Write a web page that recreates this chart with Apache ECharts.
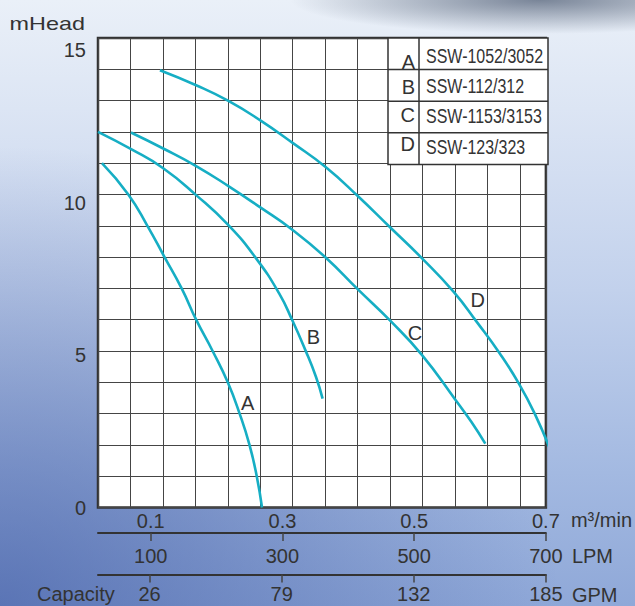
<!DOCTYPE html>
<html><head><meta charset="utf-8">
<script src="https://cdn.jsdelivr.net/npm/echarts@6.0.0/dist/echarts.min.js"></script>
<style>
html,body{margin:0;padding:0;}
body{width:635px;height:606px;overflow:hidden;
background:
 radial-gradient(ellipse 250px 34px at 540px 0px, rgba(60,75,100,0.65), rgba(60,75,100,0) 100%),
 radial-gradient(ellipse 560px 460px at 0px 606px, rgba(55,82,158,0.6), rgba(55,82,158,0) 100%),
 linear-gradient(to bottom, #eaf0f8 0%, #dce5f4 18%, #c2d1ec 48%, #a3b9e1 78%, #8fa8d8 100%);
}
#c{width:635px;height:606px;}
</style></head><body><div id="c"></div>
<script>
// ---- data ----
const flowTicks = [0.1, 0.3, 0.5, 0.7];        // m3/min
const lpmTicks  = [100, 300, 500, 700];        // LPM
const gpmTicks  = [26, 79, 132, 185];          // GPM
const headTicks = [0, 5, 10, 15];              // mHead

const letters = ['A', 'B', 'C', 'D'];
const models  = ['SSW-1052/3052', 'SSW-112/312', 'SSW-1153/3153', 'SSW-123/323'];

const flowA = [0.026, 0.066, 0.095, 0.121, 0.147, 0.169, 0.194, 0.217, 0.235, 0.25, 0.261, 0.269];
const headA = [11, 10, 9, 8, 7, 6, 5, 4, 3, 2, 1, 0];

const flowB = [0.02, 0.071, 0.119, 0.169, 0.218, 0.26, 0.295, 0.315, 0.335, 0.351, 0.361];
const headB = [12, 11.44, 10.84, 9.98, 9.02, 7.96, 6.84, 5.98, 5.02, 4.17, 3.48];

const flowC = [0.07, 0.119, 0.169, 0.218, 0.267, 0.316, 0.366, 0.415, 0.464, 0.512, 0.562, 0.587, 0.608];
const headC = [11.98, 11.47, 10.91, 10.27, 9.58, 8.86, 7.98, 6.96, 5.96, 4.87, 3.46, 2.73, 2.04];

const flowD = [0.114, 0.169, 0.218, 0.267, 0.316, 0.366, 0.414, 0.463, 0.512, 0.56, 0.595, 0.63, 0.659, 0.683, 0.706];
const headD = [13.97, 13.49, 12.99, 12.36, 11.64, 10.87, 9.96, 8.96, 7.96, 6.89, 5.93, 4.92, 3.96, 3.0, 1.88];

// ---- styling / layout ----
const FONT = "'Liberation Sans', Arial, sans-serif";
const TXT = '#333';
const CURVE = '#16aec4';
const GRID = {left: 98, top: 38, width: 450, height: 469.5};

function mkData(flow, head, labelIdx, letter, pos) {
  return flow.map(function (x, i) {
    if (i === labelIdx) {
      return {value: [x, head[i]], label: {show: true, formatter: letter, position: pos, align: 'center', verticalAlign: 'middle'}};
    }
    return [x, head[i]];
  });
}

function curve(name, data) {
  return {
    name: name, type: 'line', xAxisIndex: 0, yAxisIndex: 0,
    data: data, smooth: 0.5, smoothMonotone: 'none', clip: false,
    showSymbol: true, symbol: 'circle', symbolSize: 0,
    lineStyle: {color: CURVE, width: 2.6},
    itemStyle: {color: CURVE},
    label: {show: false, fontSize: 20, color: TXT, fontFamily: FONT},
    emphasis: {disabled: true},
    silent: true
  };
}

const series = [
  curve(models[0], mkData(flowA, headA, 8, letters[0], [8, -11])),
  curve(models[1], mkData(flowB, headB, 8, letters[1], [8, -13])),
  curve(models[2], mkData(flowC, headC, 9, letters[2], [-7, -22])),
  curve(models[3], mkData(flowD, headD, 10, letters[3], [1, -22]))
];

// legend table drawn as graphic
const tbl = {x: 388, y: 38, w: 160, div: 419, rowH: 31.6};
const letterDy = [23.5, 17, 14, 11];
const modelDy = [18.5, 17, 15.5, 15];
const graphics = [];
graphics.push({type: 'rect', shape: {x: tbl.x, y: tbl.y, width: tbl.w, height: tbl.rowH * 4}, style: {fill: '#fff', stroke: '#333', lineWidth: 1.5}, z: 10});
graphics.push({type: 'line', shape: {x1: tbl.div, y1: tbl.y, x2: tbl.div, y2: tbl.y + tbl.rowH * 4}, style: {stroke: '#333', lineWidth: 1.5}, z: 11});
for (let i = 1; i < 4; i++) {
  graphics.push({type: 'line', shape: {x1: tbl.x, y1: tbl.y + tbl.rowH * i, x2: tbl.x + tbl.w, y2: tbl.y + tbl.rowH * i}, style: {stroke: '#333', lineWidth: 1.5}, z: 11});
}
letters.forEach(function (l, i) {
  graphics.push({type: 'text', x: tbl.div - 4, y: tbl.y + tbl.rowH * i + letterDy[i], z: 12,
    style: {text: l, fill: TXT, font: '20px ' + FONT, textAlign: 'right', textVerticalAlign: 'middle'}});
  graphics.push({type: 'text', x: tbl.div + 7, y: tbl.y + tbl.rowH * i + modelDy[i], z: 12, scaleX: 0.82,
    style: {text: models[i], fill: TXT, font: '19.5px ' + FONT, textAlign: 'left', textVerticalAlign: 'middle'}});
});
graphics.push({type: 'text', x: 37, y: 594, z: 12,
  style: {text: 'Capacity', fill: TXT, font: '20px ' + FONT, textAlign: 'left', textVerticalAlign: 'middle'}});
graphics.push({type: 'text', x: 85, y: 24, z: 12, scaleX: 1.3,
  style: {text: 'mHead', fill: TXT, font: '18px ' + FONT, textAlign: 'right', textVerticalAlign: 'middle'}});

const labelStyle = {fontSize: 20, color: TXT, fontFamily: FONT};

const option = {
  animation: false,
  backgroundColor: 'transparent',
  grid: Object.assign({show: true, backgroundColor: '#fff', borderColor: '#333', borderWidth: 2.5}, GRID),
  xAxis: [
    { // m3/min (data axis)
      type: 'value', min: 0.02, max: 0.7, position: 'bottom',
      axisLine: {show: false}, axisTick: {show: false}, splitLine: {show: false},
      axisLabel: Object.assign({customValues: flowTicks, margin: 3}, labelStyle),
      name: 'm³/min', nameLocation: 'end', nameGap: 25,
      nameTextStyle: {fontSize: 20, color: TXT, fontFamily: FONT, verticalAlign: 'top', padding: [2, 0, 0, 0]}
    },
    { // grid columns
      type: 'value', min: 0, max: 13.8, interval: 1, position: 'bottom',
      axisLine: {show: false}, axisTick: {show: false}, axisLabel: {show: false},
      splitLine: {show: true, lineStyle: {color: '#454545', width: 1}}
    },
    { // LPM
      type: 'value', min: 20, max: 700, position: 'bottom', offset: 25.4,
      axisLine: {show: true, lineStyle: {color: '#333', width: 2}},
      axisTick: {show: true, customValues: lpmTicks, length: 8, lineStyle: {color: '#444', width: 1.5}},
      axisLabel: Object.assign({customValues: lpmTicks, margin: 13}, labelStyle),
      splitLine: {show: false},
      name: 'LPM', nameLocation: 'end', nameGap: 26,
      nameTextStyle: {fontSize: 20, color: TXT, fontFamily: FONT, verticalAlign: 'top', padding: [13, 0, 0, 0]}
    },
    { // GPM
      type: 'value', min: 5.2857, max: 185, position: 'bottom', offset: 67,
      axisLine: {show: true, lineStyle: {color: '#333', width: 2}},
      axisTick: {show: true, customValues: gpmTicks, length: 8, lineStyle: {color: '#444', width: 1.5}},
      axisLabel: Object.assign({customValues: gpmTicks, margin: 9}, labelStyle),
      splitLine: {show: false},
      name: 'GPM', nameLocation: 'end', nameGap: 26,
      nameTextStyle: {fontSize: 20, color: TXT, fontFamily: FONT, verticalAlign: 'top', padding: [10, 0, 0, 0]}
    }
  ],
  yAxis: [
    { // head (data axis + grid rows)
      type: 'value', min: 0, max: 15, interval: 1, position: 'left',
      axisLine: {show: false}, axisTick: {show: false}, axisLabel: {show: false},
      splitLine: {show: true, lineStyle: {color: '#454545', width: 1}}
    },
    { // head tick labels
      type: 'value', min: 0, max: 15.4, position: 'left',
      axisLine: {show: false}, axisTick: {show: false}, splitLine: {show: false},
      axisLabel: Object.assign({customValues: headTicks, margin: 12}, labelStyle)
    }
  ],
  graphic: graphics,
  series: series
};

const chart = echarts.init(document.getElementById('c'), null, {renderer: 'svg'});
chart.setOption(option);
</script></body></html>
